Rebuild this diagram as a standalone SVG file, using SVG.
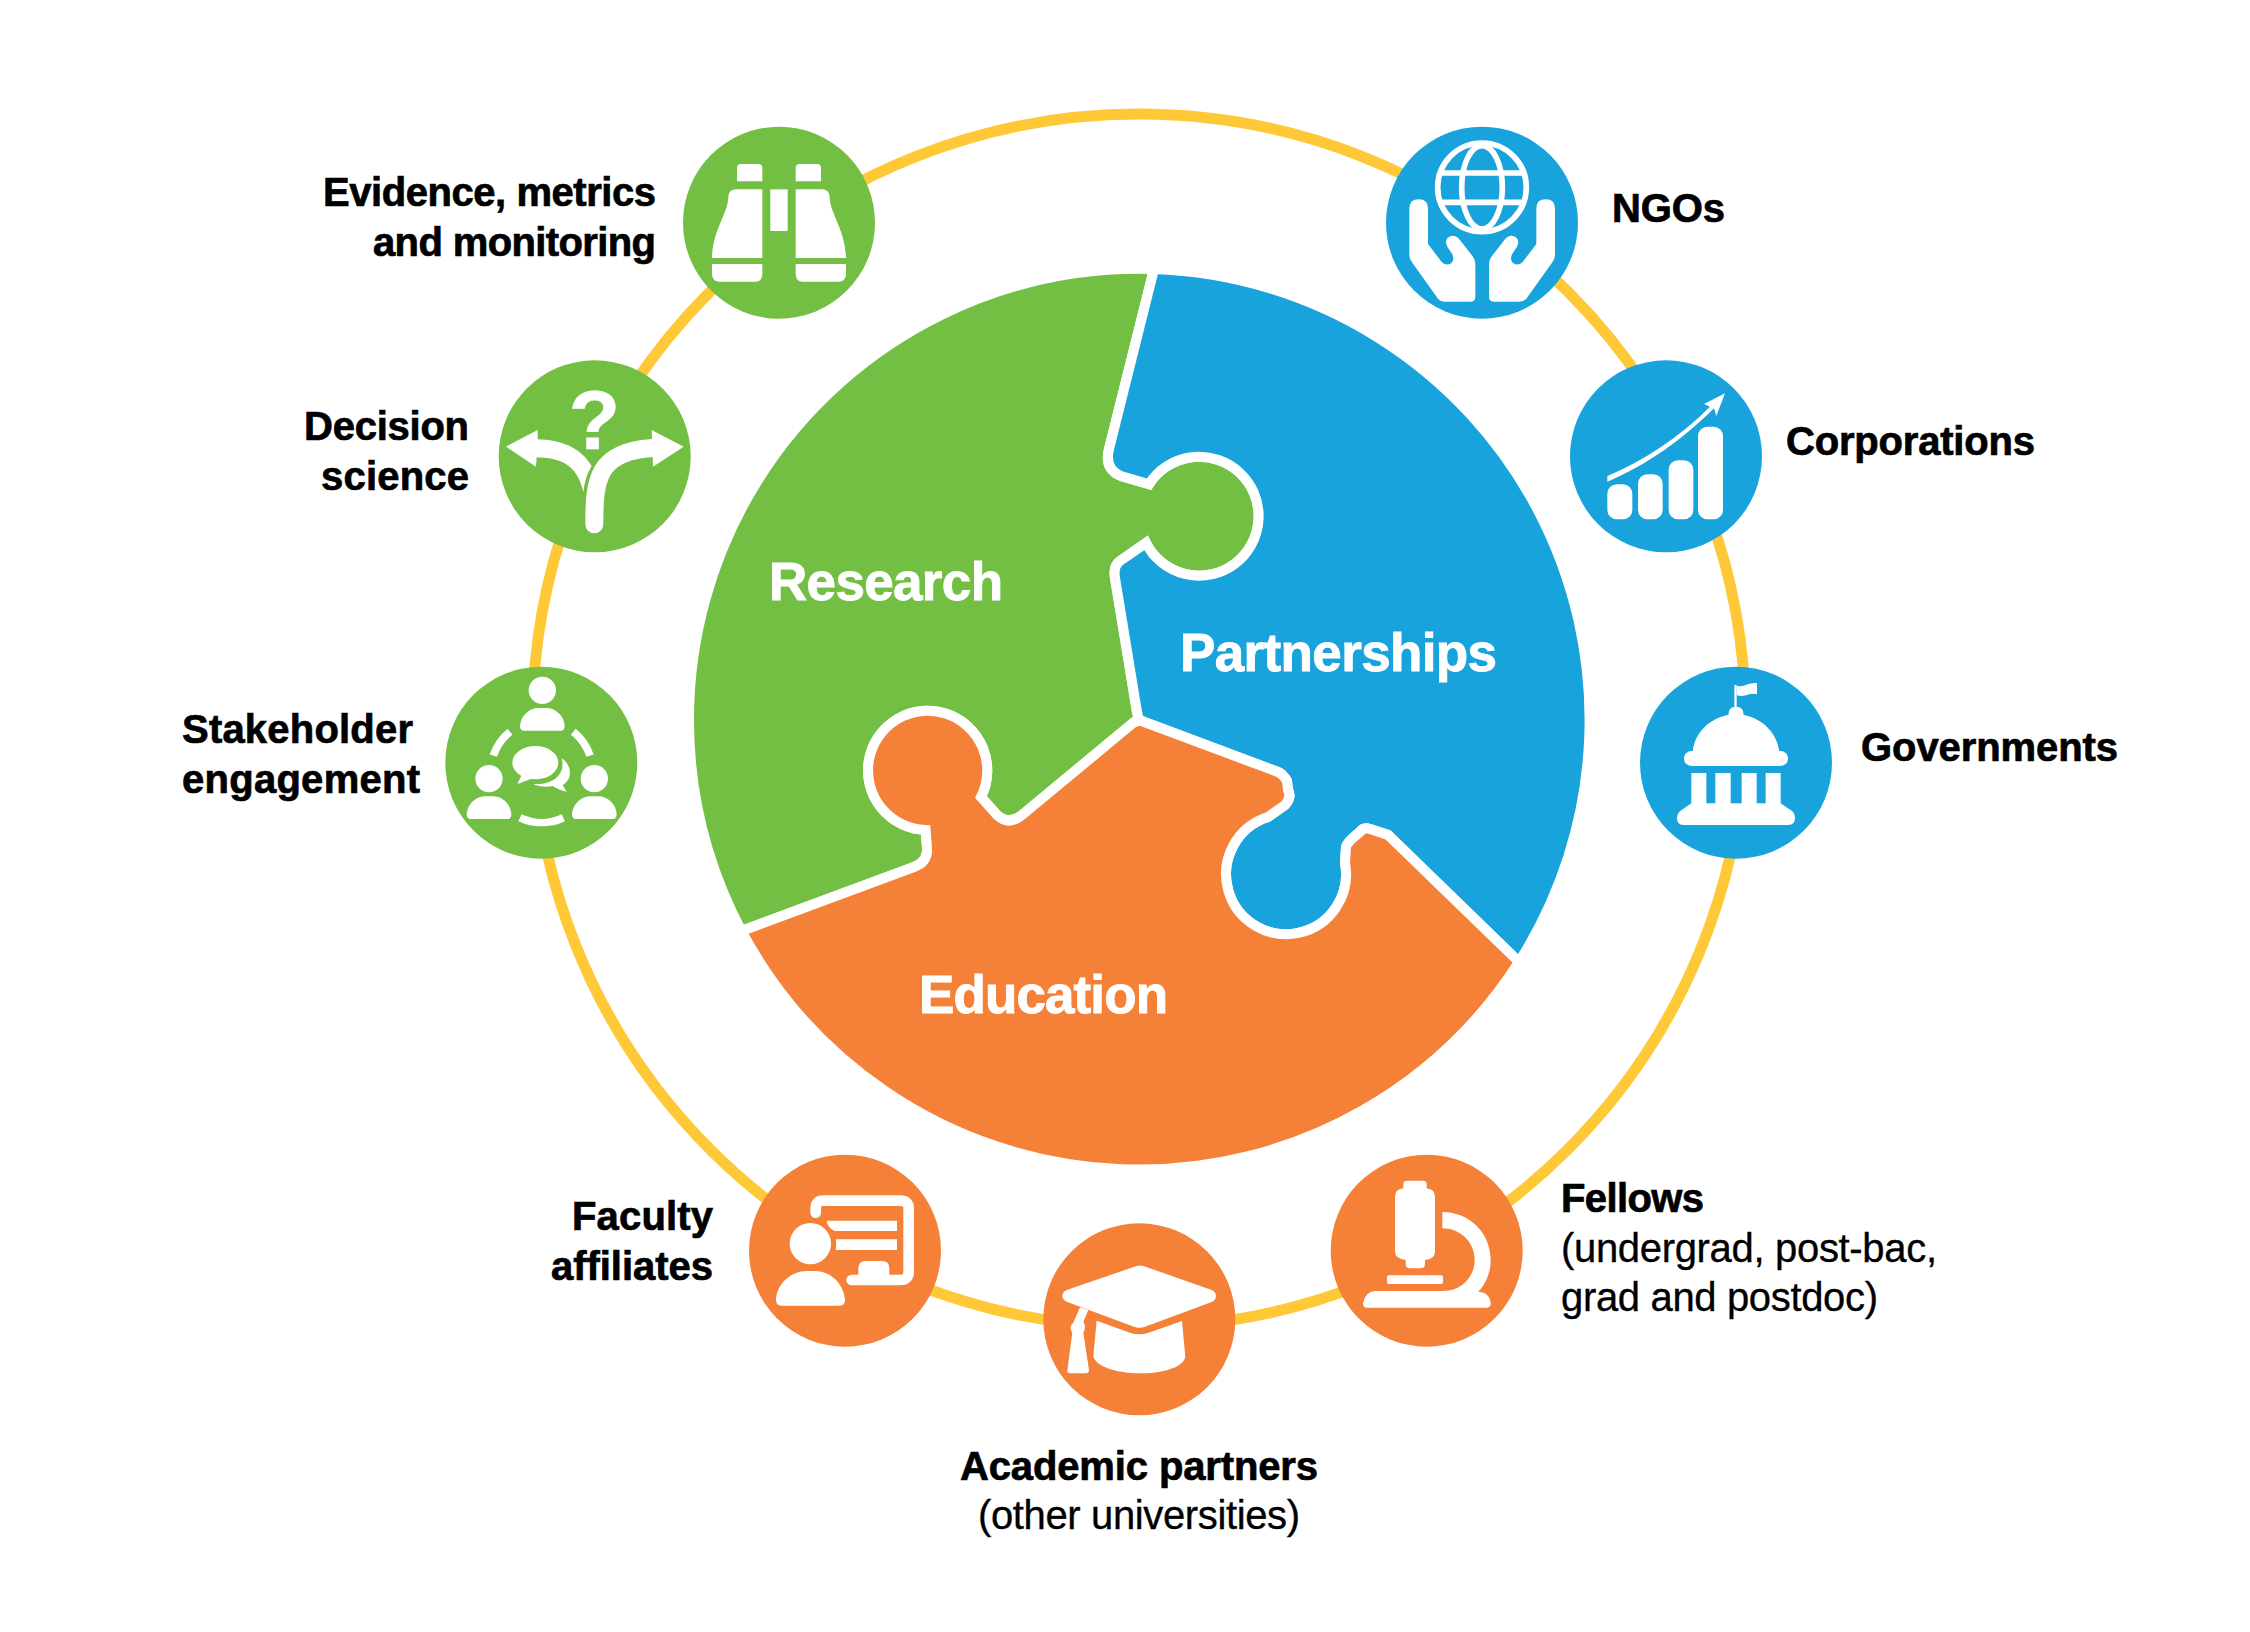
<svg xmlns="http://www.w3.org/2000/svg" width="2250" height="1632" viewBox="0 0 2250 1632">
<style>
.g{fill:#72bf44}.b{fill:#19a3dd}.o{fill:#f58037}
.p{stroke:#fff;stroke-width:10;stroke-miterlimit:6}
.w{fill:#fff}.l{fill:none;stroke:#fff}
text{font-family:"Liberation Sans",Arial,sans-serif;font-weight:700;fill:#000;font-size:40px;stroke:#000;stroke-width:.7px}
.r{font-weight:400;stroke-width:.35px}
.big{fill:#fff;stroke:#fff;stroke-width:.9px;font-size:53px}
.e{text-anchor:end}.m{text-anchor:middle}
</style>
<rect width="2250" height="1632" fill="#fff"/>
<g id="connectors"><circle cx="1139" cy="720.5" r="606.5" fill="none" stroke="#ffc836" stroke-width="11"/></g>

<g id="research">
<path class="g p" d="M741.5,931 L914,867 Q928,862 927,848 L925.6,830 A59.6,59.6 0 1 1 981,797 L997,815 Q1009,826 1022,815 L1133,723 L1139,718 L1137,712 L1115,578 Q1113,566 1120,561 L1146,543 A59.5,59.5 0 1 0 1149,484.2 L1121,476 Q1104,469 1109,449 L1154,269 A451,451 0 0 0 741.5,931Z"/>
<text class="big" x="769" y="600" textLength="234">Research</text>
</g>
<g id="partnerships">
<path class="b p" d="M1154,269 L1109,449 Q1104,469 1121,476 L1149,484.2 A59.5,59.5 0 1 1 1146,543 L1120,561 Q1113,566 1115,578 L1137,712 L1139,720 L1278,772 Q1283,774 1287,781 L1288,790 Q1292,797 1285,805 L1268,817 A60,60 0 1 0 1345,863 L1346,847 Q1346,843 1360,832 Q1363,827 1370,829 L1388,835 L1519,962 A451,451 0 0 0 1154,269Z"/>
<text class="big" x="1180" y="671" textLength="317">Partnerships</text>
</g>
<g id="education">
<path class="o p" d="M741.5,931 L914,867 Q928,862 927,848 L925.6,830 A59.6,59.6 0 1 1 981,797 L997,815 Q1009,826 1022,815 L1133,723 L1139,720 L1278,772 Q1283,774 1287,781 L1288,790 Q1292,797 1285,805 L1268,817 A60,60 0 1 0 1345,863 L1346,847 Q1346,843 1360,832 Q1363,827 1370,829 L1388,835 L1519,962 A451,451 0 0 1 741.5,931Z"/>
<text class="big" x="919" y="1013" textLength="249">Education</text>
</g>

<g id="evidence">
<circle class="g" cx="779" cy="222.7" r="96"/>
<g class="w" transform="translate(660 100) scale(.33333)">
<path d="M231,244 V204 Q231,192 243,192 H295 Q307,192 307,204 V244Z M407,244 V204 Q407,192 419,192 H471 Q483,192 483,204 V244Z"/>
<rect x="331" y="268" width="52" height="125"/>
<path d="M307,268 H228 Q206,268 205,292 C204,340 158,390 156,474 H307Z M156,492 H307 V522 Q307,545 285,545 H180 Q156,545 156,522Z"/>
<path d="M407,268 H486 Q508,268 509,292 C510,340 556,390 558,474 H407Z M407,492 H558 V522 Q558,545 534,545 H429 Q407,545 407,522Z"/>
</g>
<text class="e" x="656" y="206" textLength="333">Evidence, metrics</text>
<text class="e" x="656" y="256" textLength="283">and monitoring</text>
</g>

<g id="decision">
<circle class="g" cx="594.7" cy="456.3" r="96"/>
<text class="m" x="594.3" y="448.7" style="font-size:84px;fill:#fff;stroke:#fff">?</text>
<g transform="translate(480 340) scale(.33333)">
<path class="l" stroke-width="54" stroke-linecap="round" d="M343,553 C343,420 350,335 517,324"/>
<path class="w" d="M515,270 L611,320 L519,380Z M335,378 C300,320 240,300 173,298 L173,270 L78,320 L168,380 L170,352 C240,355 290,370 310,455 Q315,410 335,378Z"/>
</g>
<text class="e" x="469" y="440" textLength="165">Decision</text>
<text class="e" x="469" y="490" textLength="148">science</text>
</g>

<g id="stakeholder">
<circle class="g" cx="541.3" cy="762.7" r="96"/>
<g transform="translate(430 650) scale(.33333)">
<g class="w">
<circle cx="337" cy="121" r="41"/>
<path d="M270,228 C272,195 300,174 325,174 H349 C375,174 402,195 404,228 Q404,242 392,242 H282 Q270,242 270,228Z"/>
<circle cx="177" cy="386" r="41"/>
<path transform="translate(-160 265)" d="M270,228 C272,195 300,174 325,174 H349 C375,174 402,195 404,228 Q404,242 392,242 H282 Q270,242 270,228Z"/>
<circle cx="493" cy="386" r="41"/>
<path transform="translate(156 265)" d="M270,228 C272,195 300,174 325,174 H349 C375,174 402,195 404,228 Q404,242 392,242 H282 Q270,242 270,228Z"/>
<ellipse cx="316" cy="338" rx="69" ry="50"/>
<path d="M275,375 L262,402 L305,386Z M395,325 C425,345 430,385 398,405 L410,425 Q385,420 368,408 C350,412 325,410 310,402 C350,405 385,390 395,360 Q400,340 395,325Z"/>
</g>
<path class="l" stroke-width="23" d="M270,503 A153,153 0 0 0 400,503 M190,317 A153,153 0 0 1 240,245 M480,317 A153,153 0 0 0 430,245"/>
</g>
<text x="182" y="743" textLength="231">Stakeholder</text>
<text x="182" y="793" textLength="238">engagement</text>
</g>

<g id="ngos">
<circle class="b" cx="1482" cy="222.7" r="96"/>
<g transform="translate(1370 100) scale(.33333)">
<g class="l" stroke-width="17">
<circle cx="336" cy="262" r="133"/>
<ellipse cx="336" cy="262" rx="61" ry="125"/>
<path d="M212,219 H460 M212,307 H460"/>
</g>
<path class="w" d="M118,325 Q118,298 146,298 Q174,298 174,325 V432 L215,486 Q230,500 245,488 Q255,475 245,460 L232,440 Q222,420 238,410 Q255,402 268,418 L305,465 Q316,478 316,495 V590 Q316,605 300,605 H225 Q212,605 204,596 L128,490 Q118,478 118,465Z"/>
<path class="w" transform="translate(673 0) scale(-1 1)" d="M118,325 Q118,298 146,298 Q174,298 174,325 V432 L215,486 Q230,500 245,488 Q255,475 245,460 L232,440 Q222,420 238,410 Q255,402 268,418 L305,465 Q316,478 316,495 V590 Q316,605 300,605 H225 Q212,605 204,596 L128,490 Q118,478 118,465Z"/>
</g>
<text x="1612" y="222" textLength="113">NGOs</text>
</g>

<g id="corporations">
<circle class="b" cx="1666" cy="456.3" r="96"/>
<g class="w" transform="translate(1560 340) scale(.33333)">
<rect x="142" y="433" width="75" height="105" rx="28"/>
<rect x="234" y="403" width="74" height="135" rx="28"/>
<rect x="326" y="361" width="74" height="177" rx="28"/>
<rect x="414" y="260" width="75" height="278" rx="28"/>
<path d="M142,408 C250,362 355,295 450,200 L432,192 L495,160 L469,228 L462,205 C360,305 260,375 142,425Z"/>
</g>
<text x="1786" y="455" textLength="249">Corporations</text>
</g>

<g id="governments">
<circle class="b" cx="1736" cy="762.7" r="96"/>
<g class="w" transform="translate(1630 650) scale(.33333)">
<rect x="313" y="105" width="7" height="70"/>
<path d="M320,107 C340,115 360,95 381,100 V133 C360,125 340,145 320,135Z M295,195 Q295,170 318,170 Q341,170 341,195Z M188,305 C195,240 250,195 318,192 C385,195 440,240 448,305Z"/>
<rect x="162" y="303" width="312" height="45" rx="22"/>
<rect x="184" y="369" width="45" height="95"/><rect x="256" y="369" width="46" height="95"/><rect x="335" y="369" width="45" height="95"/><rect x="407" y="369" width="45" height="95"/>
<path d="M184,460 H452 L485,482 Q495,490 495,505 Q495,525 475,525 H160 Q141,525 141,505 Q141,490 152,482Z"/>
</g>
<text x="1861" y="761" textLength="257">Governments</text>
</g>

<g id="fellows">
<circle class="o" cx="1426.7" cy="1250.7" r="96"/>
<g class="w" transform="translate(1320 1140) scale(.33333)">
<path d="M250,145 V132 Q250,122 262,122 H308 Q320,122 320,132 V145 Q345,148 345,170 V335 Q345,357 315,360 V372 Q315,385 300,385 H270 Q257,385 257,372 V360 Q225,355 225,335 V170 Q225,148 250,145Z"/>
<rect x="201" y="406" width="168" height="26" rx="6"/>
<path d="M367,216 C450,216 512,280 512,360 C512,400 495,435 475,455 Q510,458 512,490 Q512,503 500,503 H140 Q129,503 129,490 Q135,455 165,453 H370 C425,453 464,410 464,360 C464,305 420,265 367,265Z"/>
</g>
<text x="1561" y="1212" textLength="143">Fellows</text>
<text class="r" x="1561" y="1262" textLength="376">(undergrad, post-bac,</text>
<text class="r" x="1561" y="1311" textLength="317">grad and postdoc)</text>
</g>

<g id="academic">
<circle class="o" cx="1139.3" cy="1319.3" r="96"/>
<g class="w" transform="translate(1030 1210) scale(.33333)">
<path d="M320,168 Q328,165 340,168 L545,240 Q558,246 558,258 Q558,270 545,276 L345,350 Q328,356 312,350 L110,275 Q97,268 97,258 Q97,246 110,240Z"/>
<path d="M200,332 L300,368 Q328,378 356,368 L456,333 L466,440 C460,475 390,490 328,490 C265,490 195,470 190,438Z"/>
<path d="M150,292 L175,300 L160,335 Q170,350 160,368 L177,480 Q177,490 167,490 H120 Q110,490 112,480 L127,368 Q115,350 130,338Z"/>
</g>
<text class="m" x="1139" y="1479.5" textLength="358">Academic partners</text>
<text class="r m" x="1139" y="1528.5" textLength="322">(other universities)</text>
</g>

<g id="faculty">
<circle class="o" cx="845" cy="1250.7" r="96"/>
<g transform="translate(740 1140) scale(.33333)">
<circle class="w" cx="211" cy="311" r="62"/>
<path class="w" d="M108,480 C110,430 155,393 200,393 H225 C270,393 312,430 315,480 Q315,497 298,497 H125 Q108,497 108,480Z M261,242 H471 V273 H285 Q270,270 261,250Z M287,298 H471 V330 H287 Q290,315 287,298Z M355,405 V385 Q355,363 378,363 H425 Q448,363 448,385 V405Z"/>
<path class="l" stroke-width="32" stroke-linecap="round" d="M227,218 V205 Q227,182 250,182 H480 Q506,182 506,205 V395 Q506,420 480,420 H335"/>
</g>
<text class="e" x="713" y="1230" textLength="141">Faculty</text>
<text class="e" x="713" y="1280" textLength="162">affiliates</text>
</g>
</svg>
